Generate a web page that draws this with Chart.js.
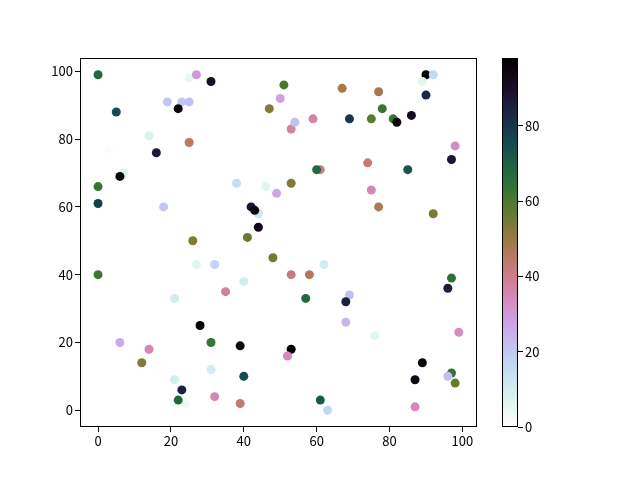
<!DOCTYPE html>
<html>
<head>
<meta charset="utf-8">
<script src="https://cdn.jsdelivr.net/npm/chart.js@4"></script>
<style>
  body { margin: 0; background: #fff; }
  #wrap { position: relative; width: 640px; height: 480px; }
  #wrap canvas { position: absolute; top: 0; }
</style>
</head>
<body>
<div id="wrap">
  <canvas id="main" width="490" height="480" style="left:0"></canvas>
  <canvas id="cbar" width="80" height="480" style="left:490px"></canvas>
</div>
<script>
// scatter data
var xs = [0, 25, 27, 31, 19, 23, 25, 22, 47, 5, 14, 25, 3, 16, 7, 6, 0, 0, 18, 38,
          46, 49, 44, 42, 43, 44, 41, 26, 51, 50, 67, 77, 90, 92, 89, 90, 78, 69, 75, 81,
          82, 86, 59, 53, 54, 98, 97, 74, 85, 61, 60, 53, 75, 77, 92, 48, 27, 32, 0, 40,
          35, 21, 28, 31, 39, 6, 14, 12, 31, 21, 40, 23, 24, 22, 32, 39, 62, 53, 58, 57,
          69, 68, 68, 76, 53, 52, 61, 63, 97, 96, 99, 89, 87, 97, 96, 98, 87];
var ys = [99, 98, 99, 97, 91, 91, 91, 89, 89, 88, 81, 79, 77, 76, 70, 69, 66, 61, 60, 67,
          66, 64, 58, 60, 59, 54, 51, 50, 96, 92, 95, 94, 99, 99, 97, 93, 89, 86, 86, 86,
          85, 87, 86, 83, 85, 78, 74, 73, 71, 71, 71, 67, 65, 60, 58, 45, 43, 43, 40, 38,
          35, 33, 25, 20, 19, 20, 18, 14, 12, 9, 10, 6, 2, 3, 4, 2, 43, 40, 40, 33,
          34, 32, 26, 22, 18, 16, 3, 0, 39, 36, 23, 14, 9, 11, 10, 8, 1];
var cs = [68, 5, 30, 90, 20, 20, 22, 95, 53, 75, 8, 45, 1, 87, 8, 95, 63, 78, 20, 15,
          6, 27, 12, 88, 95, 93, 56, 53, 60, 28, 48, 48, 98, 16, 6, 83, 63, 80, 58, 63,
          95, 92, 37, 37, 22, 33, 88, 42, 73, 40, 68, 53, 35, 47, 54, 55, 6, 17, 62, 10,
          38, 10, 98, 63, 95, 26, 35, 53, 10, 10, 75, 85, 3, 68, 35, 43, 10, 42, 46, 68,
          22, 85, 24, 6, 98, 35, 72, 16, 65, 85, 33, 96, 93, 64, 22, 56, 35];

var xTicks = [0, 20, 40, 60, 80, 100];
var yTicks = [0, 20, 40, 60, 80, 100];
var cTicks = [0, 20, 40, 60, 80];
var cMin = 0, cMax = 98;

// cubehelix_r, matplotlib defaults
function cubehelix(x) {
  var a = x * (1 - x) / 2;
  var phi = 2 * Math.PI * (0.5 / 3 - 1.5 * x);
  var c = Math.cos(phi), s = Math.sin(phi);
  var r = x + a * (-0.14861 * c + 1.78277 * s);
  var g = x + a * (-0.29227 * c - 0.90649 * s);
  var b = x + a * (1.97294 * c);
  function cl(v) { return Math.round(255 * Math.max(0, Math.min(1, v))); }
  return 'rgb(' + cl(r) + ',' + cl(g) + ',' + cl(b) + ')';
}
function cmap(v) {
  var t = (v - cMin) / (cMax - cMin);
  t = Math.max(0, Math.min(1, t));
  return cubehelix(1 - t);
}

Chart.defaults.font.family = "'Noto Sans CJK SC', 'Noto Sans', sans-serif";
Chart.defaults.font.size = 13;
Chart.defaults.color = '#000';

var points = xs.map(function(x, i) { return {x: x, y: ys[i]}; });

var frame = {
  id: 'frame',
  afterDraw: function(chart) {
    var a = chart.chartArea, ctx = chart.ctx;
    ctx.save();
    ctx.strokeStyle = '#000';
    ctx.lineWidth = 1;
    ctx.strokeRect(Math.round(a.left) + 0.5, Math.round(a.top) + 0.5,
                   Math.round(a.right - a.left) - 1, Math.round(a.bottom - a.top) - 1);
    ctx.restore();
  }
};

function axisCommon(ticks) {
  return {
    grid: { display: true, drawOnChartArea: false, drawTicks: true, tickLength: 5, color: '#000' },
    border: { display: false },
    ticks: { padding: 2, maxRotation: 0, autoSkip: false },
    afterBuildTicks: function(scale) {
      scale.ticks = ticks.map(function(v) { return {value: v}; });
    }
  };
}

var xAxis = axisCommon(xTicks);
xAxis.type = 'linear';
xAxis.min = -4.95;
xAxis.max = 104;
xAxis.ticks.padding = 1;
xAxis.afterFit = function(scale) { scale.height = 30; };

var yAxis = axisCommon(yTicks);
yAxis.type = 'linear';
yAxis.min = -4.95;
yAxis.max = 103.95;
yAxis.afterFit = function(scale) { scale.width = 40; };

new Chart(document.getElementById('main'), {
  type: 'scatter',
  data: {
    datasets: [{
      data: points,
      pointBackgroundColor: cs.map(cmap),
      pointBorderWidth: 0,
      pointRadius: 4.5,
      pointHoverRadius: 4.5
    }]
  },
  options: {
    responsive: false,
    animation: false,
    layout: { padding: { left: 40, right: 13, top: 58, bottom: 23 } },
    plugins: { legend: { display: false }, tooltip: { enabled: false } },
    scales: { x: xAxis, y: yAxis }
  },
  plugins: [frame]
});

// colorbar
var cAxis = axisCommon(cTicks);
cAxis.position = 'right';
cAxis.min = cMin;
cAxis.max = cMax;
cAxis.afterFit = function(scale) { scale.width = 40; };

new Chart(document.getElementById('cbar'), {
  type: 'bar',
  data: {
    labels: [''],
    datasets: [{
      data: [[cMin, cMax]],
      barPercentage: 1,
      categoryPercentage: 1,
      backgroundColor: function(ctx) {
        var area = ctx.chart.chartArea;
        if (!area) return '#fff';
        var g = ctx.chart.ctx.createLinearGradient(0, area.bottom, 0, area.top);
        for (var i = 0; i <= 50; i++) {
          g.addColorStop(i / 50, cmap(cMin + (cMax - cMin) * i / 50));
        }
        return g;
      }
    }]
  },
  options: {
    responsive: false,
    animation: false,
    layout: { padding: { left: 12, right: 12, top: 58, bottom: 53 } },
    plugins: { legend: { display: false }, tooltip: { enabled: false } },
    scales: {
      x: { display: false },
      y: cAxis
    }
  },
  plugins: [frame]
});
</script>
</body>
</html>
